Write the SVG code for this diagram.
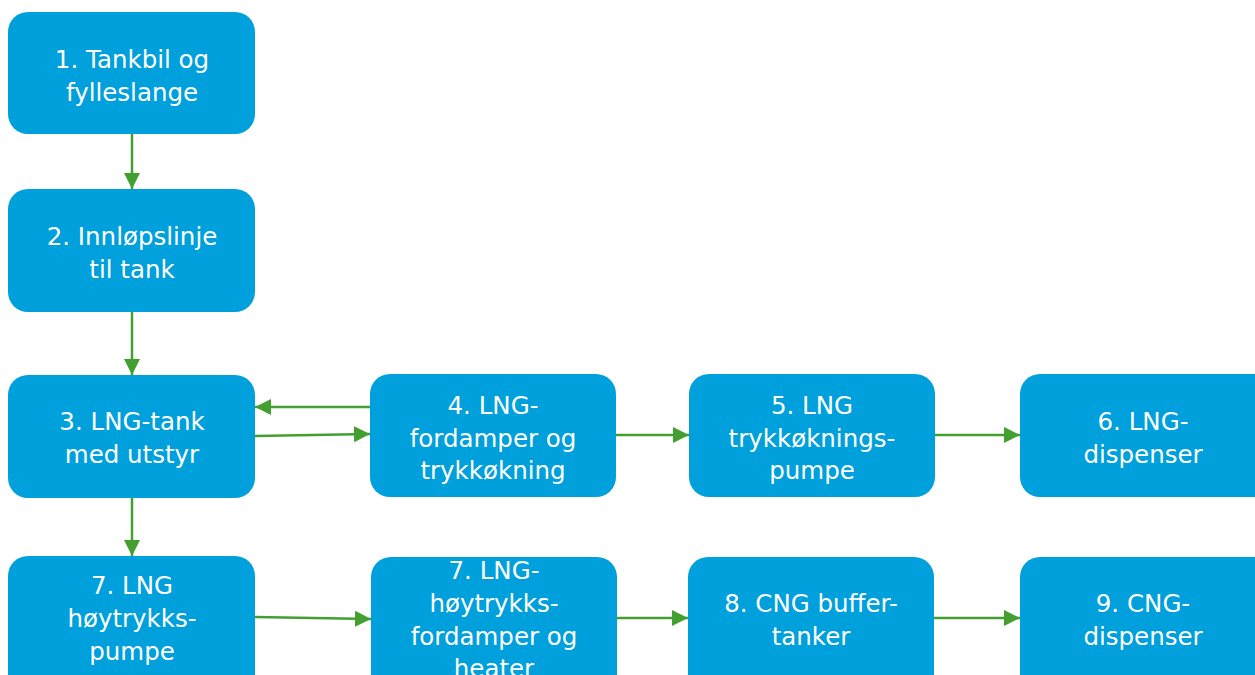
<svg xmlns="http://www.w3.org/2000/svg" width="1255" height="675" viewBox="0 0 1255 675">
<defs>
<style>
.n{fill:#00a0dc;}
.t{fill:#ffffff;font-family:"DejaVu Sans",Verdana,sans-serif;font-size:24.5px;text-anchor:middle;}
.c{stroke:#43a030;stroke-width:2.5;fill:none;marker-end:url(#ah);}
</style>
<marker id="ah" viewBox="0 0 16 16" refX="16" refY="8" markerWidth="16" markerHeight="16" markerUnits="userSpaceOnUse" orient="auto">
<path d="M0,0 L16,8 L0,16 Z" fill="#43a030"/>
</marker>
</defs>
<rect width="1255" height="675" fill="#ffffff"/>
<g id="connectors">
<line class="c" x1="132" y1="134" x2="132" y2="189"/>
<line class="c" x1="132" y1="312" x2="132" y2="375"/>
<line class="c" x1="132" y1="498" x2="132" y2="556"/>
<line class="c" x1="370" y1="407" x2="255" y2="407"/>
<line class="c" x1="255" y1="436" x2="370" y2="434"/>
<line class="c" x1="616" y1="435" x2="689" y2="435"/>
<line class="c" x1="935" y1="435" x2="1020" y2="435"/>
<line class="c" x1="255" y1="617" x2="371" y2="619"/>
<line class="c" x1="617" y1="618" x2="688" y2="618"/>
<line class="c" x1="934" y1="618" x2="1020" y2="618"/>
</g>
<g id="n1"><rect class="n" x="8" y="12" width="247" height="122" rx="20"/>
<text class="t" x="132" y="68">1. Tankbil og</text><text class="t" x="132" y="101">fylleslange</text></g>
<g id="n2"><rect class="n" x="8" y="189" width="247" height="123" rx="20"/>
<text class="t" x="132" y="245">2. Innløpslinje</text><text class="t" x="132" y="278">til tank</text></g>
<g id="n3"><rect class="n" x="8" y="375" width="247" height="123" rx="20"/>
<text class="t" x="132" y="430">3. LNG-tank</text><text class="t" x="132" y="463">med utstyr</text></g>
<g id="n4"><rect class="n" x="370" y="374" width="246" height="123" rx="20"/>
<text class="t" x="493" y="414">4. LNG-</text><text class="t" x="493" y="447">fordamper og</text><text class="t" x="493" y="479">trykkøkning</text></g>
<g id="n5"><rect class="n" x="689" y="374" width="246" height="123" rx="20"/>
<text class="t" x="812" y="414">5. LNG</text><text class="t" x="812" y="447">trykkøknings-</text><text class="t" x="812" y="479">pumpe</text></g>
<g id="n6"><rect class="n" x="1020" y="374" width="255" height="123" rx="20"/>
<text class="t" x="1143" y="430">6. LNG-</text><text class="t" x="1143" y="463">dispenser</text></g>
<g id="n7a"><rect class="n" x="8" y="556" width="247" height="140" rx="20"/>
<text class="t" x="132" y="594">7. LNG</text><text class="t" x="132" y="627">høytrykks-</text><text class="t" x="132" y="660">pumpe</text></g>
<g id="n7b"><rect class="n" x="371" y="557" width="246" height="140" rx="20"/>
<text class="t" x="494" y="579">7. LNG-</text><text class="t" x="494" y="612">høytrykks-</text><text class="t" x="494" y="645">fordamper og</text><text class="t" x="494" y="677">heater</text></g>
<g id="n8"><rect class="n" x="688" y="557" width="246" height="140" rx="20"/>
<text class="t" x="811" y="612">8. CNG buffer-</text><text class="t" x="811" y="645">tanker</text></g>
<g id="n9"><rect class="n" x="1020" y="557" width="255" height="140" rx="20"/>
<text class="t" x="1143" y="612">9. CNG-</text><text class="t" x="1143" y="645">dispenser</text></g>
</svg>
